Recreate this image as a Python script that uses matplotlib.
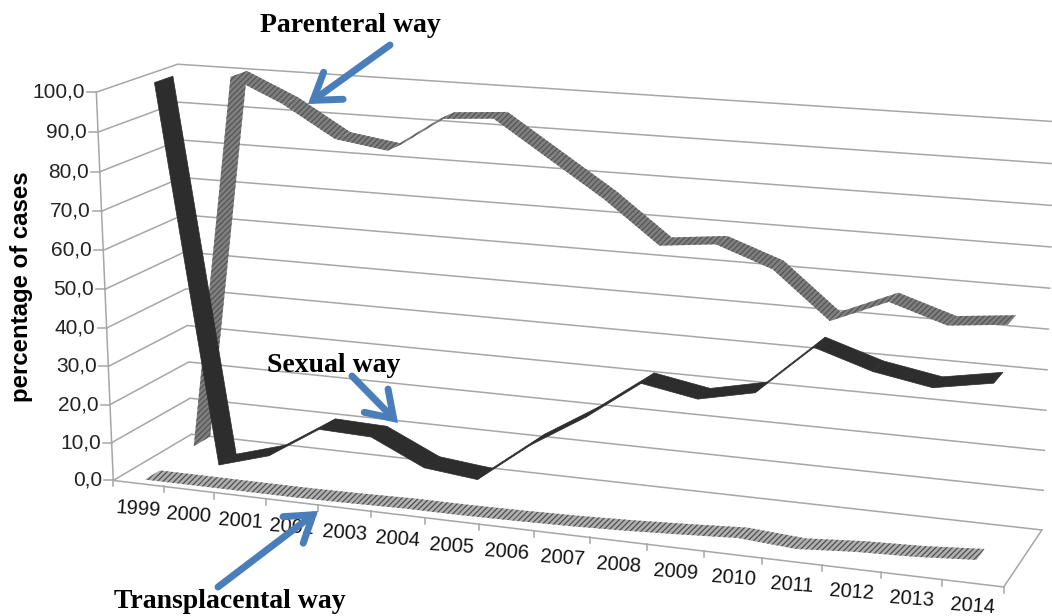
import numpy as np
import matplotlib
matplotlib.use("Agg")
import matplotlib.pyplot as plt
from matplotlib.patches import Polygon, FancyArrowPatch

years = ["1999", "2000", "2001", "2002", "2003", "2004", "2005", "2006",
         "2007", "2008", "2009", "2010", "2011", "2012", "2013", "2014"]
parenteral = [1, 100, 94, 86, 84, 93, 94, 85, 76, 65.5, 67, 62, 50.5, 56.5, 52, 53.5]
sexual = [100, 1.5, 5.5, 14, 13.5, 7, 5.5, 16, 24.5, 34.5, 32, 35, 47.5, 43, 40.5, 43]
transplacental = [0, 0, 0, 0, 0.2, 0.5, 0.5, 0.7, 1, 1.5, 2.2, 3, 2, 3, 3.5, 4.5]
value_ticks = [0, 10, 20, 30, 40, 50, 60, 70, 80, 90, 100]

# excel 3d box: (category, depth, value) -> picture pixel, fitted on box corners
anchors = [
    (0, 0, 0, 113, 480), (0, 1, 0, 192, 435), (16, 1, 0, 1042, 529), (16, 0, 0, 1004, 587),
    (0, 0, 100, 97, 92), (0, 1, 100, 177, 64), (16, 1, 100, 1055, 122),
    (5, 0, 0, 371, 511), (12, 0, 0, 762, 559),
]
rows = []
rhs = []
for u, d, v, px, py in anchors:
    X = [u / 16, d, v / 100, 1]
    rows.append(X + [0, 0, 0, 0] + [-px * c for c in X[:3]])
    rhs.append(px)
    rows.append([0, 0, 0, 0] + X + [-py * c for c in X[:3]])
    rhs.append(py)
cam = np.linalg.lstsq(np.array(rows, float), np.array(rhs, float), rcond=None)[0]
cam = np.append(cam, 1).reshape(3, 4)


def proj(u, d, v):
    p = cam @ np.array([u / 16, d, v / 100, 1])
    return p[0] / p[2], p[1] / p[2]


def ribbon(ax, vals, d0, d1, z, **kw):
    for i in range(len(vals) - 1):
        pts = [proj(i + 0.5, d0, vals[i]), proj(i + 1.5, d0, vals[i + 1]),
               proj(i + 1.5, d1, vals[i + 1]), proj(i + 0.5, d1, vals[i])]
        ax.add_patch(Polygon(pts, closed=True, zorder=z, **kw))


plt.rcParams["font.family"] = "Liberation Sans"
plt.rcParams["hatch.linewidth"] = 0.9

fig = plt.figure(figsize=(10.52, 6.16), dpi=100)
ax = fig.add_axes([0, 0, 1, 1])
ax.set_xlim(0, 1052)
ax.set_ylim(616, 0)
ax.axis("off")

grid = "#a6a6a6"
for v in value_ticks:
    a = proj(0, 0, v)
    b = proj(0, 1, v)
    c = proj(16, 1, v)
    ax.plot([a[0], b[0], c[0]], [a[1], b[1], c[1]], color=grid, lw=1.1, zorder=1)
    ax.plot([a[0] - 9, a[0]], [a[1], a[1]], color=grid, lw=1.1, zorder=1)
    ax.text(a[0] - 11, a[1], ("%.1f" % v).replace(".", ","), ha="right", va="center",
            fontsize=15, color="#222222")

# left axis line and floor
a = proj(0, 0, 0)
b = proj(0, 0, 100)
ax.plot([a[0], b[0]], [a[1], b[1]], color=grid, lw=1.1, zorder=1)
a = proj(0, 0, 0)
b = proj(16, 0, 0)
c = proj(16, 1, 0)
ax.plot([a[0], b[0], c[0]], [a[1], b[1], c[1]], color=grid, lw=1.1, zorder=1)
for i in range(len(years) + 1):
    p = proj(i, 0, 0)
    ax.plot([p[0], p[0]], [p[1], p[1] + 6], color=grid, lw=1.1, zorder=1)
for i, y in enumerate(years):
    p = proj(i + 0.5, 0, 0)
    ax.text(p[0], p[1] + 26 - 3 * i / 15, y, ha="center", va="center", rotation=-4,
            fontsize=14.5, color="#111111", zorder=2)

ribbon(ax, parenteral, 0.71, 0.93, 3, facecolor="#7f7f7f", edgecolor="#555555",
       hatch="//////", lw=0)
ribbon(ax, sexual, 0.39, 0.62, 4, facecolor="#2d2d2d", edgecolor="#2d2d2d", lw=0.5)
ribbon(ax, transplacental, 0.08, 0.27, 5, facecolor="#b0b0b0", edgecolor="#4f4f4f",
       hatch="//////", lw=0)

ax.text(22, 287, "percentage of cases", rotation=90, ha="center", va="center",
        fontsize=17.3, fontweight="bold", color="black")

serif = dict(family="Liberation Serif", fontweight="bold", fontsize=20, color="black",
             ha="center", va="center", zorder=7)
ax.text(350, 25, "Parenteral way", **serif)
ax.text(334, 365, "Sexual way", **serif)
ax.text(230, 601, "Transplacental way", **serif)

for start, end in [((390, 45), (308, 104)), ((352, 376), (398, 423)), ((218, 587), (318, 511))]:
    ax.add_patch(FancyArrowPatch(start, end, arrowstyle="->,head_length=7.5,head_width=5",
                                 mutation_scale=2.4, lw=5, color="#4a7ebb", zorder=6,
                                 shrinkA=0, shrinkB=0, joinstyle="miter", capstyle="round"))

fig.savefig("out.png", dpi=100)
